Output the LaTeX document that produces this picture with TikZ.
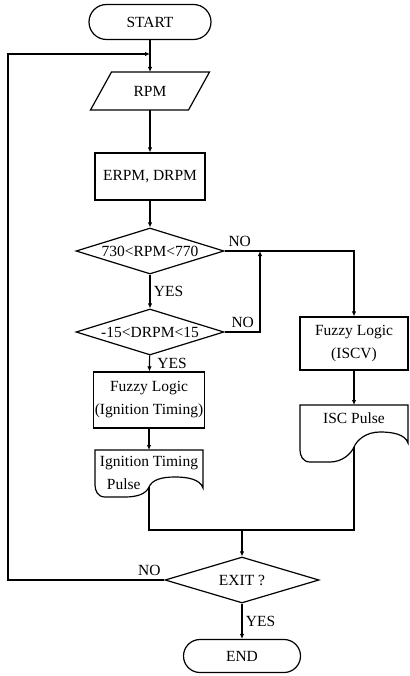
\documentclass[tikz,border=0pt]{standalone}
\usepackage{fontspec}
\setmainfont{Liberation Serif}
\usetikzlibrary{arrows.meta,shapes.geometric,shapes.misc}

% outline of a document symbol hung from the top of node #1
% #2 = depth of the crest, #3 = depth of the trough
\newcommand{\docoutline}[3]{%
  \draw (#1.north west) -- (#1.north east) -- ++(0,{#2+11})
    .. controls +(-3,-9) and +(12,0) .. ++(-28,-11)
    .. controls +(-14,0) and +(3,-7) .. ++(-26,{(#3-#2)/2}) coordinate (#1-wave)
    .. controls +(-3,7) and +(12,0) .. ++(-24,{(#3-#2)/2})
    -- ++(-20,0) .. controls +(-7,0) and +(0,6) .. ++(-10,-12) -- cycle;}
% slanted input box round node #1, slant #2
\newcommand{\iooutline}[2]{%
  \draw (#1.south west) ++({-#2/2},0) -- ++(98,0) -- ++(#2,-38) -- ++(-98,0) -- cycle;}

\begin{document}
\begin{tikzpicture}[x=1pt,y=-1pt,line width=1.2pt,
    every node/.style={font=\fontsize{15.5}{23}\selectfont},
    term/.style={rounded rectangle,draw,inner sep=2pt},
    inout/.style={rectangle,minimum width=98pt,minimum height=38pt,outer sep=0pt},
    process/.style={rectangle,draw,align=center,inner sep=1pt},
    decision/.style={diamond,draw,aspect=3.2,inner sep=0pt,
      minimum width=148pt,minimum height=46pt},
    docbox/.style={rectangle,minimum width=108pt,outer sep=0pt,anchor=north,inner sep=1pt},
    flow/.style={-{Latex[length=5pt,width=4.5pt]}}]
    \useasboundingbox (0,0) rectangle (409,676);

    % main column
    \node[term,minimum width=126pt,minimum height=35pt] (start) at (150,22) {START};
    \node[inout] (rpm) at (150,91) {RPM};
    \iooutline{rpm}{21}
    \node[process,minimum width=110pt,minimum height=47pt] (erpm) at (150,176.5) {ERPM, DRPM};
    \node[decision] (chk1) at (150,251) {730<RPM<770};
    \node[decision] (chk2) at (150,332) {-15<DRPM<15};
    \node[process,minimum width=110pt,minimum height=56pt] (fzig) at (149,400)
      {Fuzzy Logic\\(Ignition Timing)};
    \node[docbox,minimum height=45pt,align=left] (ipulse) at (149,450)
      {Ignition Timing\\\hspace*{7pt}Pulse};
    \docoutline{ipulse}{27}{47}

    % right column
    \node[process,minimum width=108pt,minimum height=53pt] (fzisc) at (354,343.5)
      {Fuzzy Logic\\(ISCV)};
    \node[docbox,minimum height=26pt] (spulse) at (354,405) {ISC Pulse};
    \docoutline{spulse}{27}{57}

    % exit
    \node[decision,minimum width=154pt] (exit) at (242,580) {EXIT ?};
    \node[term,minimum width=121pt,minimum height=33pt] (end) at (242,656) {END};

    \coordinate (jtop) at (150,54);
    \coordinate (loopx) at (8,54);
    \coordinate (jno) at (260,251);
    \coordinate (merge) at (242,530);

    % connectors
    \draw[flow] (start) -- (rpm);
    \draw[flow] (rpm) -- (erpm);
    \draw[flow] (erpm) -- (chk1);
    \draw[flow] (chk1) -- node[right] (yes1) {YES} (chk2);
    \draw[flow] (chk2) -- node[right,xshift=4pt] (yes2) {YES} (fzig);
    \draw[flow] (fzig) -- (ipulse);
    \draw[flow] (chk1.east) node[above right] (no1) {NO} -| (fzisc.north);
    \draw[flow] (chk2.east) node[above right,xshift=3pt] (no2) {NO} -| (jno);
    \draw[flow] (fzisc) -- (spulse);
    \draw (ipulse-wave) |- (merge) -| (spulse-wave);
    \draw[flow] (merge) -- (exit.north);
    \draw[flow] (exit.west) node[above left] (no3) {NO} -| (loopx) -- (jtop);
    \draw[flow] (exit) -- node[right] (yes3) {YES} (end);
\end{tikzpicture}
\end{document}
